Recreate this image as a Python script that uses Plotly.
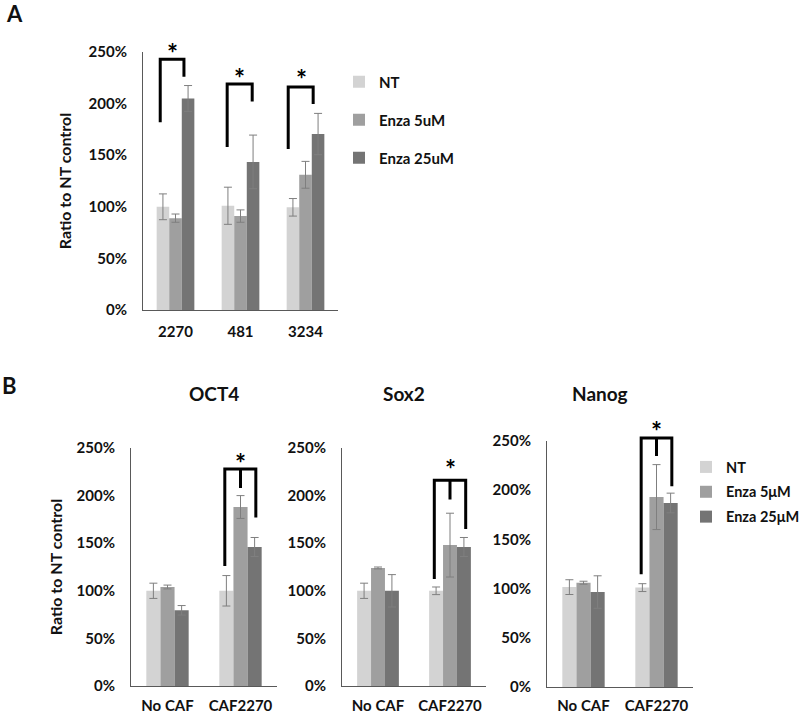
import plotly.graph_objects as go

# ---------------- data ----------------
A_categories = ["2270", "481", "3234"]
A_nt = [100, 101, 99.5]
A_nt_err = [12.5, 18, 8.5]
A_enza5 = [89, 91, 131]
A_enza5_err = [4, 6, 13]
A_enza25 = [205, 143.5, 170.5]
A_enza25_err = [12.5, 26, 20]
A_names = ["NT", "Enza 5uM", "Enza 25uM"]

B_categories = ["No CAF", "CAF2270"]
B_genes = ["OCT4", "Sox2", "Nanog"]
B_names = ["NT", "Enza 5μM", "Enza 25μM"]
OCT4_nt = [100, 100]
OCT4_nt_err = [8, 16]
OCT4_enza5 = [104, 188]
OCT4_enza5_err = [2, 12]
OCT4_enza25 = [79.5, 146]
OCT4_enza25_err = [5, 10]
Sox2_nt = [100, 100]
Sox2_nt_err = [8, 4]
Sox2_enza5 = [124, 148]
Sox2_enza5_err = [1, 33.5]
Sox2_enza25 = [100, 146]
Sox2_enza25_err = [17, 10]
Nanog_nt = [101.5, 101]
Nanog_nt_err = [7.5, 4]
Nanog_enza5 = [106, 193]
Nanog_enza5_err = [1.5, 33]
Nanog_enza25 = [96.5, 187]
Nanog_enza25_err = [16.5, 10]

y_ticks = [0, 50, 100, 150, 200, 250]
y_tick_labels = ["0%", "50%", "100%", "150%", "200%", "250%"]
y_max = 250

# significance brackets (values in %, offsets in category units)
A_br_cat = [0, 1, 2]
A_br_left_off = [-0.235, -0.205, -0.266]
A_br_right_off = [0.13, 0.18, 0.118]
A_br_left_bottom = [182, 158, 156]
A_br_right_bottom = [226, 202, 199.6]
A_br_top = [243, 219, 216]
A_star_off = [-0.05, -0.02, -0.066]
A_star_y = [255, 230.6, 229.7]

B_br_left_off = [-0.215, -0.218, -0.21]
B_br_right_off = [0.21, 0.218, 0.21]
B_br_left_bottom = [126, 112.4, 114.5]
B_br_mid_bottom = [208, 196, 234.8]
B_br_right_bottom = [177, 165, 204]
B_br_top = [228, 216, 253]
B_star_y = [240.9, 234, 266]

# ---------------- style ----------------
W, H = 800, 715
FONT = "Lato"
TXT = "#111111"
COLORS = ["#d3d3d3", "#9f9f9f", "#747474"]
ERR_COLOR = "#7f7f7f"
AXIS_COLOR = "#595959"


def fx(px):
    return px / W


def fy(py):
    return 1 - py / H


# subplot domains (paper fractions)
DOM = {
    1: ([fx(143), fx(338)], [fy(310), fy(52)]),
    2: ([fx(131), fx(277)], [fy(686), fy(448)]),
    3: ([fx(342), fx(486)], [fy(686), fy(448)]),
    4: ([fx(547), fx(693)], [fy(687), fy(441)]),
}


def to_paper(ax, ncat, catpos, val):
    (x0, x1), (y0, y1) = DOM[ax]
    px = x0 + (catpos + 0.5) / ncat * (x1 - x0)
    py = y0 + val / y_max * (y1 - y0)
    return px, py


fig = go.Figure()

# Panel A bars
A_vals = [A_nt, A_enza5, A_enza25]
A_errs = [A_nt_err, A_enza5_err, A_enza25_err]
for i in range(3):
    fig.add_trace(go.Bar(
        x=A_categories, y=A_vals[i], name=A_names[i],
        marker=dict(color=COLORS[i], line=dict(width=0)),
        error_y=dict(type="data", array=A_errs[i], color=ERR_COLOR, thickness=1, width=4),
        xaxis="x", yaxis="y", legend="legend", legendgroup="a%d" % i,
    ))

# Panel B bars
B_vals = [
    [OCT4_nt, OCT4_enza5, OCT4_enza25],
    [Sox2_nt, Sox2_enza5, Sox2_enza25],
    [Nanog_nt, Nanog_enza5, Nanog_enza25],
]
B_errs = [
    [OCT4_nt_err, OCT4_enza5_err, OCT4_enza25_err],
    [Sox2_nt_err, Sox2_enza5_err, Sox2_enza25_err],
    [Nanog_nt_err, Nanog_enza5_err, Nanog_enza25_err],
]
for g in range(3):
    for i in range(3):
        fig.add_trace(go.Bar(
            x=B_categories, y=B_vals[g][i], name=B_names[i],
            marker=dict(color=COLORS[i], line=dict(width=0)),
            error_y=dict(type="data", array=B_errs[g][i], color=ERR_COLOR, thickness=1, width=4),
            xaxis="x%d" % (g + 2), yaxis="y%d" % (g + 2),
            legend="legend2", legendgroup="b%d" % i, showlegend=(g == 0),
        ))

tick_font = dict(family=FONT, size=15, color=TXT, weight="bold")


def xaxis(ax, anchor, standoff):
    return dict(domain=DOM[ax][0], anchor=anchor, showline=True, linecolor=AXIS_COLOR,
                linewidth=1, ticks="", showgrid=False, zeroline=False, automargin=False,
                tickfont=tick_font, ticklabelstandoff=standoff, fixedrange=True)


def yaxis(ax, anchor, title=None, standoff=10):
    d = dict(domain=DOM[ax][1], anchor=anchor, range=[0, y_max], tickmode="array",
             tickvals=y_ticks, ticktext=y_tick_labels,
             showline=True, linecolor=AXIS_COLOR, linewidth=1, automargin=False,
             ticks="", showgrid=False, zeroline=False, tickfont=tick_font,
             ticklabelstandoff=12, fixedrange=True)
    if title:
        d["title"] = dict(text=title, font=dict(family=FONT, size=16, color=TXT, weight="bold"),
                          standoff=standoff)
    return d


layout = dict(
    width=W, height=H,
    margin=dict(l=0, r=0, t=0, b=0, pad=0, autoexpand=False),
    paper_bgcolor="white", plot_bgcolor="white",
    barmode="group", bargap=0.42, bargroupgap=0,
    font=dict(family=FONT, color=TXT),
    xaxis=xaxis(1, "y", 8),
    yaxis=yaxis(1, "x", "Ratio to NT control", 12),
    xaxis2=xaxis(2, "y2", 6),
    yaxis2=yaxis(2, "x2", "Ratio to NT control", 9),
    xaxis3=xaxis(3, "y3", 6),
    yaxis3=yaxis(3, "x3"),
    xaxis4=xaxis(4, "y4", 5),
    yaxis4=yaxis(4, "x4"),
    legend=dict(x=fx(339), y=fy(65.5), xanchor="left", yanchor="top",
                font=dict(family=FONT, size=15, color=TXT, weight="bold"),
                tracegroupgap=15.5, bgcolor="rgba(0,0,0,0)", borderwidth=0),
    legend2=dict(x=fx(686), y=fy(451), xanchor="left", yanchor="top",
                 font=dict(family=FONT, size=14.5, color=TXT, weight="bold"),
                 tracegroupgap=3, bgcolor="rgba(0,0,0,0)", borderwidth=0),
    showlegend=True,
)
fig.update_layout(**layout)

shapes = []
annotations = []
LINE = dict(color="black", width=3)
STAR_FONT = dict(family=FONT, size=26, color="black", weight="bold")

# Panel A brackets
nA = len(A_categories)
for k in range(len(A_br_cat)):
    c = A_br_cat[k]
    xl, yl = to_paper(1, nA, c + A_br_left_off[k], A_br_left_bottom[k])
    xr, yr = to_paper(1, nA, c + A_br_right_off[k], A_br_right_bottom[k])
    _, yt = to_paper(1, nA, c, A_br_top[k])
    shapes.append(dict(type="path", xref="paper", yref="paper",
                       path="M %f,%f L %f,%f L %f,%f L %f,%f" % (xl, yl, xl, yt, xr, yt, xr, yr),
                       line=LINE))
    sx, sy = to_paper(1, nA, c + A_star_off[k], A_star_y[k])
    annotations.append(dict(text="*", xref="paper", yref="paper", x=sx, y=sy,
                            xanchor="center", yanchor="middle",
                            showarrow=False, yshift=-6, font=STAR_FONT))

# Panel B brackets (on CAF2270 category)
nB = len(B_categories)
for g in range(3):
    ax = g + 2
    c = 1
    xl, yl = to_paper(ax, nB, c + B_br_left_off[g], B_br_left_bottom[g])
    xm, ym = to_paper(ax, nB, c, B_br_mid_bottom[g])
    xr, yr = to_paper(ax, nB, c + B_br_right_off[g], B_br_right_bottom[g])
    _, yt = to_paper(ax, nB, c, B_br_top[g])
    shapes.append(dict(type="path", xref="paper", yref="paper",
                       path="M %f,%f L %f,%f L %f,%f L %f,%f M %f,%f L %f,%f" % (
                           xl, yl, xl, yt, xr, yt, xr, yr, xm, yt, xm, ym),
                       line=LINE))
    sx, sy = to_paper(ax, nB, c, B_star_y[g])
    annotations.append(dict(text="*", xref="paper", yref="paper", x=sx, y=sy,
                            xanchor="center", yanchor="middle",
                            showarrow=False, yshift=-6, font=STAR_FONT))

# Subplot titles for panel B
title_x = [214, 404, 600]
for g in range(3):
    annotations.append(dict(text=B_genes[g], xref="paper", yref="paper",
                            x=fx(title_x[g]), y=fy(393), showarrow=False,
                            xanchor="center", yanchor="middle",
                            font=dict(family=FONT, size=19, color=TXT, weight="bold")))

# Panel letters
annotations.append(dict(text="A", xref="paper", yref="paper", x=fx(14), y=fy(13),
                        showarrow=False, xanchor="center", yanchor="middle",
                        font=dict(family=FONT, size=22, color=TXT, weight="bold")))
annotations.append(dict(text="B", xref="paper", yref="paper", x=fx(9), y=fy(385),
                        showarrow=False, xanchor="center", yanchor="middle",
                        font=dict(family=FONT, size=22, color=TXT, weight="bold")))

fig.update_layout(shapes=shapes, annotations=annotations)

fig.write_html("out.html", config={"displayModeBar": False},
               post_script="document.body.style.margin='0';")
